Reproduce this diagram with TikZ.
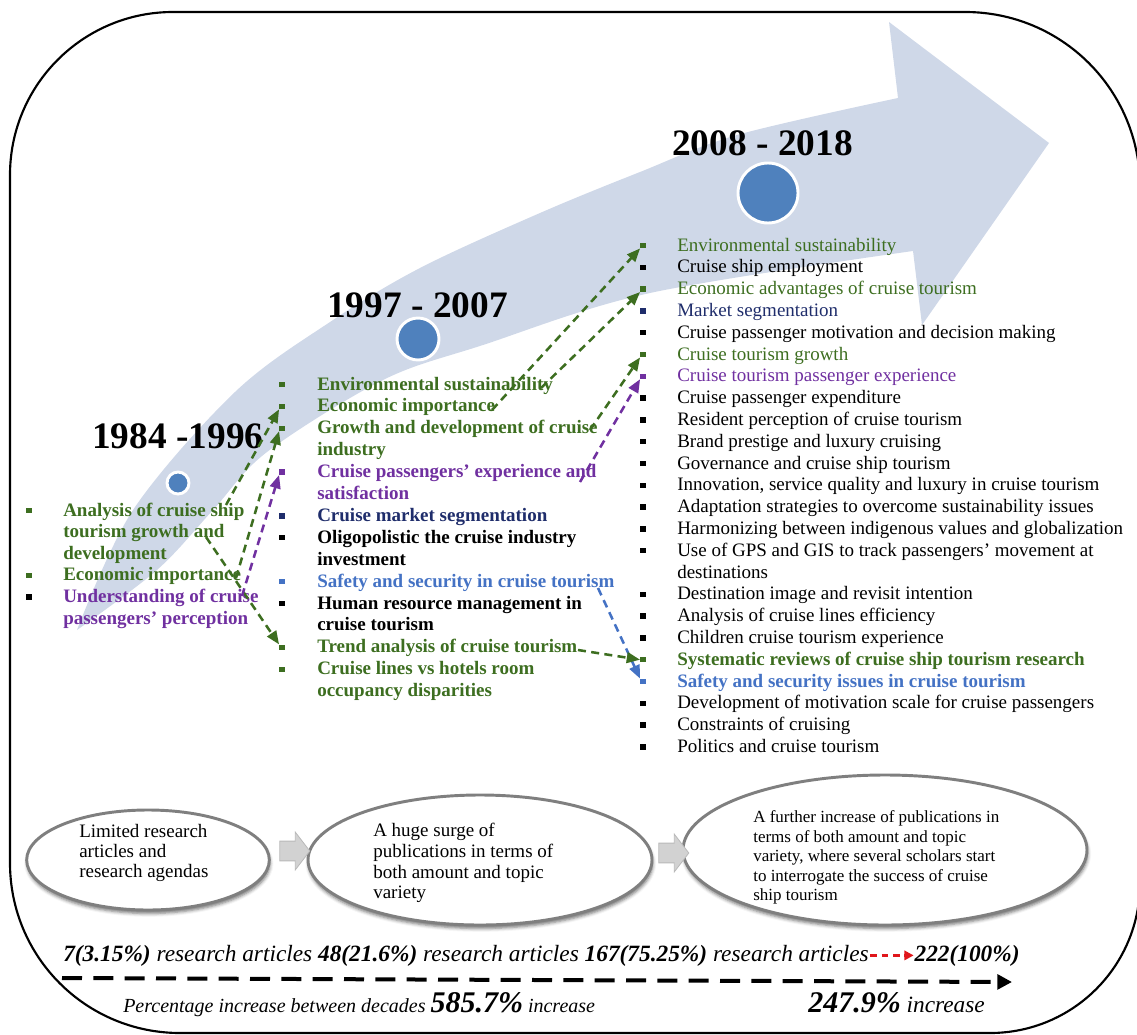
\documentclass[tikz,border=0pt]{standalone}
\usepackage{fontspec}
\setmainfont{Liberation Serif}
\usetikzlibrary{arrows.meta,shapes.geometric,shapes.arrows,shadows.blur}
\definecolor{ggreen}{HTML}{3D6E20}
\definecolor{gpurple}{HTML}{7030A0}
\definecolor{gnavy}{HTML}{1F2D6B}
\definecolor{gblue}{HTML}{4472C4}
\definecolor{arrowfill}{HTML}{CFD8E8}
\definecolor{circblue}{HTML}{4F81BD}
\definecolor{ellgray}{HTML}{7F7F7F}
\definecolor{redarr}{HTML}{E0161B}
\newcommand{\li}[7]{%
  \node[bul, fill=#5] (#1b) at (#2,#4-5.5) {};
  \node[#6, text=#5] (#1) at (#3,#4) {#7};}
\begin{document}
\begin{tikzpicture}[x=0.75pt,y=-0.75pt,
  bul/.style={rectangle, inner sep=0pt, minimum size=4pt},
  txr/.style={anchor=base west, inner sep=0pt, font=\fontsize{14.25}{16}\selectfont},
  txb/.style={anchor=base west, inner sep=0pt, font=\fontsize{14.25}{16}\selectfont\bfseries},
  txs/.style={anchor=base west, inner sep=0pt, font=\fontsize{12.75}{14}\selectfont},
  title/.style={anchor=base west, inner sep=0pt, font=\fontsize{28}{30}\selectfont\bfseries},
  dot/.style={circle, fill=circblue, draw=white, line width=2.2pt, inner sep=0pt},
  conn/.style={line width=1.9pt, dash pattern=on 6pt off 4pt, -{Triangle[length=10pt,width=8pt]}},
  ell/.style={ellipse, draw=ellgray, line width=2.2pt, fill=white, inner sep=0pt,
    blur shadow={shadow xshift=0.6pt, shadow yshift=-2.6pt, shadow blur radius=2.5pt, shadow opacity=55}},
  garrow/.style={single arrow, fill=gray!35, draw=gray!55, line width=0.6pt,
    inner xsep=0pt, inner ysep=7.1pt, single arrow head extend=6.75pt,
    single arrow tip angle=105, minimum height=22.5pt},
  frame/.style={line width=1.6pt, black}]
\useasboundingbox (0,0) rectangle (1137,1034);
% frame
\draw[frame] (10,863) -- (10,175) .. controls (10,85) and (83,12) .. (173,12)
  -- (965,12) .. controls (1062,12) and (1140,90) .. (1140,187)
  -- (1140,883) .. controls (1140,966) and (1073,1033) .. (990,1033)
  -- (180,1033) .. controls (86,1033) and (10,957) .. (10,863) -- cycle;
% big arrow
\fill[arrowfill] plot[smooth, tension=0.55] coordinates {(77,630) (133,510) (235,392) (330,322) (420,268) (540,213) (640,172) (737,135) (898,98)}
  -- (889,22) -- (1049,143) -- (922,325) -- (913,251)
  -- plot[smooth, tension=0.55] coordinates {(913,251) (650,293) (483,345) (383,380) (267,452) (213,510) (157,570) (77,630)} -- cycle;
% circles
\node[dot, minimum size=16.5pt] (c1) at (178,483) {};
\node[dot, minimum size=31.5pt] (c2) at (418,339) {};
\node[dot, minimum size=45pt] (c3) at (768,193) {};
% titles
\node[title] (t1) at (92,448) {1984 -1996};
\node[title] (t2) at (327,317) {1997 - 2007};
\node[title] (t3) at (672,156) {2008 - 2018};
% 1984-1996
\li{a1}{29}{63}{516}{ggreen}{txb}{Analysis of cruise ship}
\node[txb, text=ggreen] (a1x) at (63,537.6) {tourism growth and};
\node[txb, text=ggreen] (a1y) at (63,559.2) {development};
\li{a2}{29}{63}{580.8}{ggreen}{txb}{Economic importance}
\node[bul, fill=black] (a3b) at (29,596.9) {};
\node[txb, text=gpurple] (a3) at (63,602.4) {Understanding of cruise};
\node[txb, text=gpurple] (a3x) at (63,624) {passengers’ perception};
% 1997-2007
\li{k1}{282}{317}{390}{ggreen}{txb}{Environmental sustainability}
\li{k2}{282}{317}{411.9}{ggreen}{txb}{Economic importance}
\li{k3}{282}{317}{433.8}{ggreen}{txb}{Growth and development of cruise}
\node[txb, text=ggreen] (k3x) at (317,455.7) {industry};
\li{k4}{282}{317}{477.6}{gpurple}{txb}{Cruise passengers’ experience and}
\node[txb, text=gpurple] (k4x) at (317,499.5) {satisfaction};
\li{k5}{282}{317}{521.4}{gnavy}{txb}{Cruise market segmentation}
\li{k6}{282}{317}{543.3}{black}{txb}{Oligopolistic the cruise industry}
\node[txb] (k6x) at (317,565.2) {investment};
\li{k7}{282}{317}{587.1}{gblue}{txb}{Safety and security in cruise tourism}
\li{k8}{282}{317}{609}{black}{txb}{Human resource management in}
\node[txb] (k8x) at (317,630.9) {cruise tourism};
\li{k9}{282}{317}{652.8}{ggreen}{txb}{Trend analysis of cruise tourism}
\li{k10}{282}{317}{674.7}{ggreen}{txb}{Cruise lines vs hotels room}
\node[txb, text=ggreen] (k10x) at (317,696.6) {occupancy disparities};
% 2008-2018
\li{m1}{643}{677}{251}{ggreen}{txr}{Environmental sustainability}
\li{m2}{643}{677}{272.8}{black}{txr}{Cruise ship employment}
\li{m3}{643}{677}{294.6}{ggreen}{txr}{Economic advantages of cruise tourism}
\li{m4}{643}{677}{316.4}{gnavy}{txr}{Market segmentation}
\li{m5}{643}{677}{338.2}{black}{txr}{Cruise passenger motivation and decision making}
\li{m6}{643}{677}{360}{ggreen}{txr}{Cruise tourism growth}
\li{m7}{643}{677}{381.8}{gpurple}{txr}{Cruise tourism passenger experience}
\li{m8}{643}{677}{403.6}{black}{txr}{Cruise passenger expenditure}
\li{m9}{643}{677}{425.4}{black}{txr}{Resident perception of cruise tourism}
\li{m10}{643}{677}{447.2}{black}{txr}{Brand prestige and luxury cruising}
\li{m11}{643}{677}{469}{black}{txr}{Governance and cruise ship tourism}
\li{m12}{643}{677}{490.8}{black}{txr}{Innovation, service quality and luxury in cruise tourism}
\li{m13}{643}{677}{512.6}{black}{txr}{Adaptation strategies to overcome sustainability issues}
\li{m14}{643}{677}{534.4}{black}{txr}{Harmonizing between indigenous values and globalization}
\li{m15}{643}{677}{556.2}{black}{txr}{Use of GPS and GIS to track passengers’ movement at}
\node[txr] (m15x) at (677,578) {destinations};
\li{m16}{643}{677}{599.8}{black}{txr}{Destination image and revisit intention}
\li{m17}{643}{677}{621.6}{black}{txr}{Analysis of cruise lines efficiency}
\li{m18}{643}{677}{643.4}{black}{txr}{Children cruise tourism experience}
\li{m19}{643}{677}{665.2}{ggreen}{txb}{Systematic reviews of cruise ship tourism research}
\li{m20}{643}{677}{687}{gblue}{txb}{Safety and security issues in cruise tourism}
\li{m21}{643}{677}{708.8}{black}{txr}{Development of motivation scale for cruise passengers}
\li{m22}{643}{677}{730.6}{black}{txr}{Constraints of cruising}
\li{m23}{643}{677}{752.4}{black}{txr}{Politics and cruise tourism}
% connectors
\coordinate (g1s) at (226,505);
\coordinate (g2s) at (236,578);
\coordinate (g3s) at (206,537);
\coordinate (p1s) at (242,596);
\coordinate (g4s) at (492,410);
\coordinate (g5s) at (541,388);
\coordinate (g6s) at (590,430);
\coordinate (p2s) at (580,482);
\coordinate (b1s) at (598,588);
\coordinate (g7s) at (578,650);
\draw[conn, ggreen] (g1s) -- (k2b.south west);
\draw[conn, ggreen] (g2s) -- (k3b.south west);
\draw[conn, ggreen] (g3s) -- (k9b.north west);
\draw[conn, gpurple] (p1s) -- (k4b.south west);
\draw[conn, ggreen] (g4s) -- (m1b.south west);
\draw[conn, ggreen] (g5s) -- (m3b.south west);
\draw[conn, ggreen] (g6s) -- (m6b.south west);
\draw[conn, gpurple] (p2s) -- (m7b.south west);
\draw[conn, gblue] (b1s) -- (m20b.north west);
\draw[conn, ggreen] (g7s) -- (m19b.west);
% bottom ellipses
\node[ell, minimum width=182pt, minimum height=75pt] (e1) at (148,860) {};
\node[ell, minimum width=258pt, minimum height=97.5pt] (e2) at (480,860) {};
\node[ell, minimum width=303pt, minimum height=112.5pt] (e3) at (885,850) {};
\node[garrow] (ga1) at (291,851) {};
\node[garrow] (ga2) at (670,853) {};
\node[txr] (e1a) at (79,837) {Limited research};
\node[txr] (e1b) at (79,857) {articles and};
\node[txr] (e1c) at (79,877) {research agendas};
\node[txr] (e2a) at (373,836) {A huge surge of};
\node[txr] (e2b) at (373,857) {publications in terms of};
\node[txr] (e2c) at (373,878) {both amount and topic};
\node[txr] (e2d) at (373,898) {variety};
\node[txs] (e3a) at (753,822) {A further increase of publications in};
\node[txs] (e3b) at (753,842) {terms of both amount and topic};
\node[txs] (e3c) at (753,861) {variety, where several scholars start};
\node[txs] (e3d) at (753,881) {to interrogate the success of cruise};
\node[txs] (e3e) at (753,900) {ship tourism};
% bottom lines
\node[anchor=base west, inner sep=0pt, font=\fontsize{17.5}{20}\selectfont\itshape] (l1a) at (63,961)
  {\textbf{7(3.15\%)} research articles \textbf{48(21.6\%)} research articles \textbf{167(75.25\%)} research articles};
\node[anchor=base west, inner sep=0pt, font=\fontsize{17.5}{20}\selectfont\itshape\bfseries] (l1b) at ([xshift=34pt]l1a.base east) {222(100\%)};
\draw[redarr, line width=1.8pt, dash pattern=on 5pt off 3.5pt, -{Triangle[length=7pt,width=7pt]}] ([xshift=1pt]l1a.east) -- ([xshift=-0.5pt]l1b.west);
\coordinate (d1) at (62,978);
\coordinate (d2) at (1012,982);
\draw[line width=3pt, dash pattern=on 15pt off 8.5pt, -{Triangle[length=11pt,width=11pt]}] (d1) -- (d2);
\node[anchor=base west, inner sep=0pt, font=\fontsize{15}{18}\selectfont\itshape] (l3a) at (123,1012)
  {Percentage increase between decades {\fontsize{22.5}{24}\selectfont\bfseries 585.7\%} increase};
\node[anchor=base west, inner sep=0pt, font=\fontsize{17.5}{18}\selectfont\itshape] (l3b) at (808,1012)
  {{\fontsize{22.5}{24}\selectfont\bfseries 247.9\%} increase};
\end{tikzpicture}
\end{document}
